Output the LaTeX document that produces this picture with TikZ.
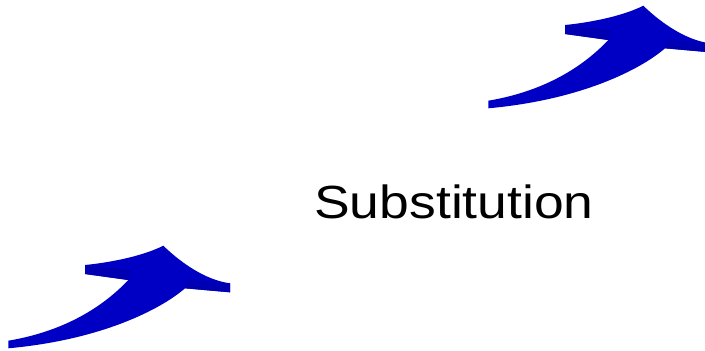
\documentclass[tikz,border=0pt]{standalone}
\usepackage{fontspec}
\setmainfont{Liberation Sans}
\definecolor{arrowblue}{RGB}{0,0,196}
\definecolor{arrowside}{RGB}{0,0,178}
\tikzset{
  curvedarrow/.style={fill=arrowblue},
  arrowface/.style={fill=arrowside},
  title/.style={font=\fontsize{46.5}{52}\selectfont, inner sep=0pt, anchor=base}
}
\begin{document}
\begin{tikzpicture}[x=1pt,y=-1pt]
  \useasboundingbox (0,0) rectangle (705,351);
  \clip (0,0) rectangle (705,351);
  % two copies of the same curved block arrow
  \foreach \dx/\dy in {0/0, 480/-240}{
    \begin{scope}[shift={(\dx,\dy)}]
      \fill[curvedarrow] (8.3,340.7) .. controls (60,332) and (100,310) .. (128.3,280)
        -- (85,274) -- (85,265)
        .. controls (115,262) and (145,255) .. (163.3,245.7)
        .. controls (180,262) and (205,280) .. (230,283.3)
        -- (230,292.3) -- (185,288.3)
        .. controls (160,310) and (100,340) .. (8.3,348.3) -- cycle;
      % thickness faces of the two barbs
      \fill[arrowface] (85,265) -- (85,274) -- (128.3,280) -- (131,270) -- cycle;
      \fill[arrowface] (185,288.3) -- (230,292.3) -- (230,283.3) -- (186,280) -- cycle;
    \end{scope}
  }
  \node[title] (label) at (454,218.5) {\scalebox{1.15}[1]{Substitution}};
\end{tikzpicture}
\end{document}
